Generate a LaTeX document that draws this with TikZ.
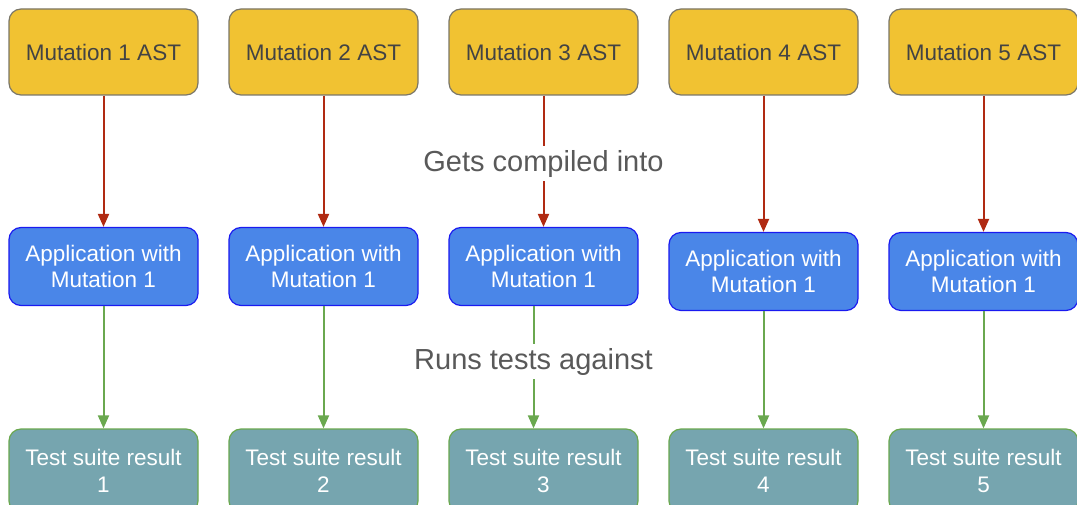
\documentclass[tikz,border=0pt]{standalone}
\usepackage{fontspec}
\setmainfont{Liberation Sans}
\usetikzlibrary{arrows.meta}
\definecolor{astfill}{HTML}{F1C232}
\definecolor{astdraw}{HTML}{7A7668}
\definecolor{asttext}{HTML}{434343}
\definecolor{appfill}{HTML}{4A86E8}
\definecolor{appdraw}{HTML}{1A1AF0}
\definecolor{resfill}{HTML}{76A5AF}
\definecolor{resdraw}{HTML}{6AA84F}
\definecolor{compilearrow}{HTML}{B02A12}
\definecolor{testarrow}{HTML}{6AA84F}
\definecolor{labeltext}{HTML}{595959}
\begin{document}
\begin{tikzpicture}[x=1pt,y=1pt,
  box/.style={rounded corners=12pt, minimum width=189pt, inner sep=0pt,
    align=center, line width=1.2pt, font=\fontsize{22.5}{26.5}\selectfont},
  astbox/.style={box, fill=astfill, draw=astdraw, text=asttext, minimum height=86pt},
  appbox/.style={box, fill=appfill, draw=appdraw, text=white, minimum height=78pt},
  resbox/.style={box, fill=resfill, draw=resdraw, text=white, minimum height=84pt},
  compile/.style={draw=compilearrow, line width=2pt,
    -{Triangle[length=13pt,width=11pt]}},
  runtests/.style={draw=testarrow, line width=2pt,
    -{Triangle[length=13pt,width=11pt]}},
  steplabel/.style={fill=white, text=labeltext, inner xsep=2pt, inner ysep=4pt,
    font=\fontsize{29}{32}\selectfont}]
\useasboundingbox (0,0) rectangle (1077,504);
\clip (0,0) rectangle (1077,504);

% one column per mutation: AST -> compiled application -> test results
\foreach \i/\x/\by in {1/103.5/237.5, 2/323.5/237.5, 3/543.5/237.5,
                       4/763.5/232.5, 5/983.5/232.5} {
  \node[astbox] (a\i) at (\x,452) {Mutation \i{} AST};
  \node[appbox] (b\i) at (\x,\by) {Application with\\Mutation 1};
  \node[resbox] (c\i) at (\x,33) {Test suite result\\\i};
}

% compile step
\foreach \i in {1,2,4,5} {
  \draw[compile] (a\i) -- (b\i);
}
\draw[compile] (a3) -- node[steplabel, pos=0.52] (lcompile) {Gets compiled into} (b3);

% test step
\foreach \i in {1,2,4,5} {
  \draw[runtests] (b\i) -- (c\i);
}
\draw[runtests] ([xshift=-10pt]b3.south) -- node[steplabel, pos=0.455] (lrun) {Runs tests against} ([xshift=-10pt]c3.north);
\end{tikzpicture}
\end{document}
